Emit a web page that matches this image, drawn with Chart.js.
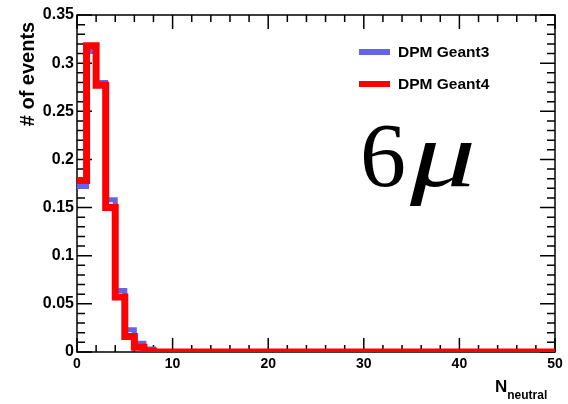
<!DOCTYPE html>
<html>
<head>
<meta charset="utf-8">
<script src="https://cdn.jsdelivr.net/npm/chart.js@4.4.1/dist/chart.umd.min.js"></script>
<style>
  html, body { margin: 0; padding: 0; background: #fff; }
  #wrap { width: 568px; height: 404px; }
</style>
</head>
<body>
<div id="wrap"><canvas id="histo" width="568" height="404"></canvas></div>
<script>
// Histogram data (bin width 1, N_neutral 0..50)
const binEdges = [0,1,2,3,4,5,6,7,8,9,10,11,12,13,14,15,16,17,18,19,20,21,22,23,24,25,26,27,28,29,30,31,32,33,34,35,36,37,38,39,40,41,42,43,44,45,46,47,48,49,50];
const geant3 = [0.172,0.312,0.280,0.158,0.064,0.023,0.009,0.003,0,0,0,0,0,0,0,0,0,0,0,0,0,0,0,0,0,0,0,0,0,0,0,0,0,0,0,0,0,0,0,0,0,0,0,0,0,0,0,0,0,0];
const geant4 = [0.178,0.318,0.277,0.150,0.057,0.016,0.005,0.001,0,0,0,0,0,0,0,0,0,0,0,0,0,0,0,0,0,0,0,0,0,0,0,0,0,0,0,0,0,0,0,0,0,0,0,0,0,0,0,0,0,0];
const seriesLabels = ['DPM Geant3', 'DPM Geant4'];
const yTickLabels = ['0', '0.05', '0.1', '0.15', '0.2', '0.25', '0.3', '0.35'];
const xTickLabels = ['0', '10', '20', '30', '40', '50'];

// step-before: each point carries the value of the bin starting there
function toSteps(values) {
    const pts = values.map((v, i) => ({ x: binEdges[i], y: v }));
    pts.push({ x: binEdges[binEdges.length - 1], y: values[values.length - 1] });
    return pts;
}

const sans = '"Liberation Sans", Arial, sans-serif';

// ROOT-like frame with inward ticks on all four sides
const framePlugin = {
    id: 'frame',
    beforeDatasetsDraw(chart) {
        const { ctx, chartArea: a, scales } = chart;
        const xs = scales.x, ys = scales.y;
        ctx.save();
        ctx.strokeStyle = '#000';
        ctx.lineWidth = 1.5;
        ctx.strokeRect(a.left, a.top, a.right - a.left, a.bottom - a.top);
        ctx.beginPath();
        for (let i = 0; i <= 35; i++) {
            const y = ys.getPixelForValue(i / 100);
            const len = i % 5 === 0 ? 15 : 8;
            ctx.moveTo(a.left, y); ctx.lineTo(a.left + len, y);
            ctx.moveTo(a.right, y); ctx.lineTo(a.right - len, y);
        }
        for (let i = 0; i <= 50; i += 2) {
            const x = xs.getPixelForValue(i);
            const len = i % 10 === 0 ? 14 : 7;
            ctx.moveTo(x, a.bottom); ctx.lineTo(x, a.bottom - len);
            ctx.moveTo(x, a.top); ctx.lineTo(x, a.top + len);
        }
        ctx.stroke();
        ctx.restore();
    },
    afterDraw(chart) {
        const { ctx } = chart;
        ctx.save();
        ctx.fillStyle = '#000';

        // y title
        ctx.save();
        ctx.translate(28, 74);
        ctx.rotate(-Math.PI / 2);
        ctx.font = 'bold 20px ' + sans;
        ctx.textAlign = 'center';
        ctx.textBaseline = 'middle';
        ctx.fillText('# of events', 0, 0);
        ctx.restore();

        // x title with subscript
        ctx.textBaseline = 'alphabetic';
        ctx.textAlign = 'left';
        ctx.font = 'bold 17px ' + sans;
        ctx.fillText('N', 495, 392);
        const nw = ctx.measureText('N').width;
        ctx.font = 'bold 12px ' + sans;
        ctx.fillText('neutral', 495 + nw, 399);

        // legend
        seriesLabels.forEach((lbl, i) => {
            const ds = chart.data.datasets[i];
            const y = 52 + i * 32;
            ctx.strokeStyle = ds.borderColor;
            ctx.lineWidth = 6;
            ctx.beginPath();
            ctx.moveTo(359, y); ctx.lineTo(390, y);
            ctx.stroke();
            ctx.font = 'bold 15.5px ' + sans;
            ctx.textBaseline = 'middle';
            ctx.fillText(lbl, 398, y + 1);
        });

        // big label
        ctx.textBaseline = 'alphabetic';
        ctx.font = '92px "Liberation Serif", "Times New Roman", serif';
        ctx.fillText('6', 360, 186);
        ctx.save();
        ctx.translate(410, 186);
        ctx.scale(1.4, 1);
        ctx.font = 'italic 94px "Liberation Serif", "Times New Roman", serif';
        ctx.fillText('\u03bc', 0, 0);
        ctx.restore();
        ctx.restore();
    }
};

new Chart(document.getElementById('histo'), {
    type: 'line',
    data: {
        datasets: [
            {
                label: seriesLabels[0],
                data: toSteps(geant3),
                borderColor: '#6464e6',
                borderWidth: 5,
                stepped: 'before',
                pointRadius: 0,
                fill: false,
                order: 2
            },
            {
                label: seriesLabels[1],
                data: toSteps(geant4),
                borderColor: '#ff0000',
                borderWidth: 7,
                stepped: 'before',
                pointRadius: 0,
                fill: false,
                order: 1
            }
        ]
    },
    options: {
        responsive: false,
        animation: false,
        layout: { padding: { top: 15, right: 13, left: 0, bottom: 0 } },
        plugins: {
            legend: { display: false },
            tooltip: { enabled: false }
        },
        scales: {
            x: {
                type: 'linear',
                min: 0,
                max: 50,
                grid: { display: false, drawTicks: false },
                border: { display: false },
                afterFit(scale) { scale.height = 52; },
                afterBuildTicks(scale) {
                    scale.ticks = xTickLabels.map(t => ({ value: Number(t) }));
                },
                ticks: {
                    padding: 4,
                    color: '#000',
                    font: { family: sans, weight: 'bold', size: 14 },
                    maxRotation: 0,
                    callback: (v) => xTickLabels.find(t => Number(t) === v)
                }
            },
            y: {
                min: 0,
                max: 0.35,
                grid: { display: false, drawTicks: false },
                border: { display: false },
                afterFit(scale) { scale.width = 77; },
                afterBuildTicks(scale) {
                    scale.ticks = yTickLabels.map(t => ({ value: Number(t) }));
                },
                ticks: {
                    padding: 3,
                    color: '#000',
                    font: { family: sans, weight: 'bold', size: 16 },
                    callback: (v) => yTickLabels.find(t => Number(t) === Number(v.toFixed(2)))
                }
            }
        }
    },
    plugins: [framePlugin]
});
</script>
</body>
</html>
